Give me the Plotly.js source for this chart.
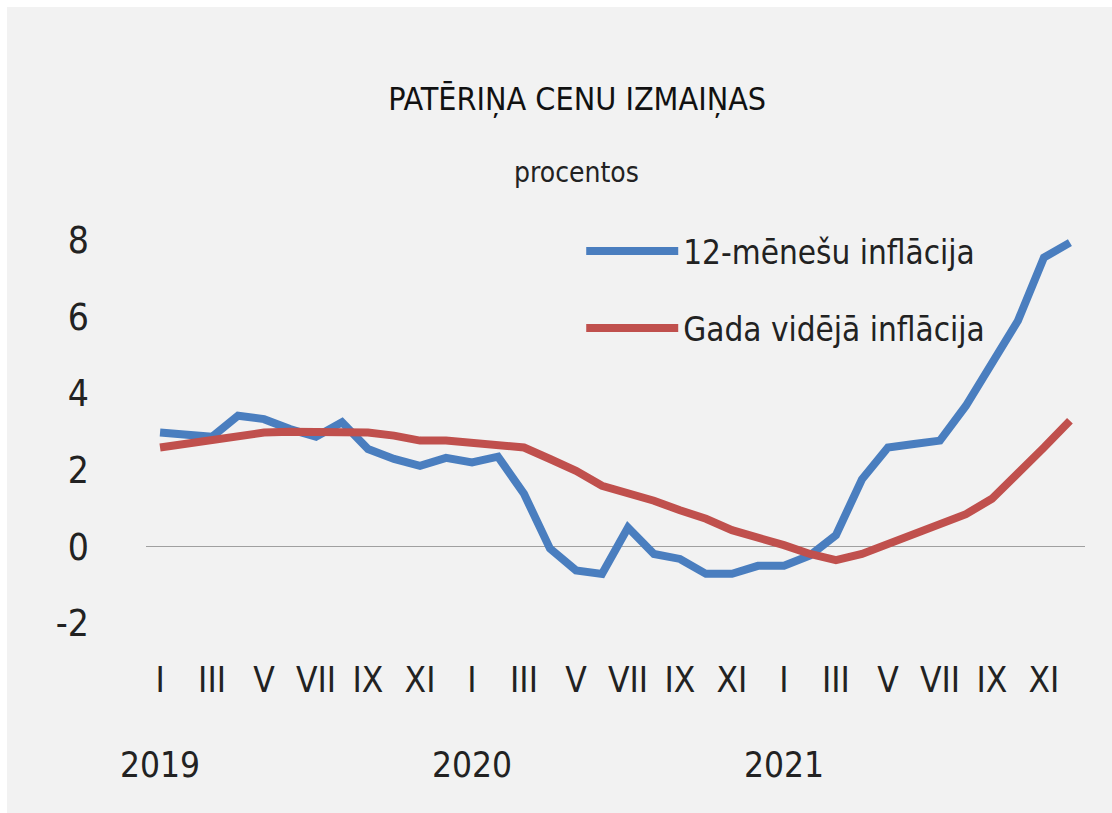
<!DOCTYPE html>
<html>
<head>
<meta charset="utf-8">
<script src="https://cdn.plot.ly/plotly-3.0.1.min.js"></script>
<style>
  html, body { margin: 0; padding: 0; background: #ffffff; }
  #chart { position: absolute; left: 7px; top: 7px; width: 1105px; height: 806px; }
</style>
</head>
<body>
<div id="chart"></div>
<script>
// Months Jan 2019 .. Dec 2021
const months = [
  '2019-01','2019-02','2019-03','2019-04','2019-05','2019-06','2019-07','2019-08','2019-09','2019-10','2019-11','2019-12',
  '2020-01','2020-02','2020-03','2020-04','2020-05','2020-06','2020-07','2020-08','2020-09','2020-10','2020-11','2020-12',
  '2021-01','2021-02','2021-03','2021-04','2021-05','2021-06','2021-07','2021-08','2021-09','2021-10','2021-11','2021-12'
];
// 12-mēnešu inflācija (%)
const inflation12m = [
  2.98, 2.92, 2.87, 3.42, 3.33, 3.07, 2.87, 3.25, 2.55, 2.29, 2.11, 2.32,
  2.20, 2.35, 1.38, -0.05, -0.62, -0.71, 0.50, -0.19, -0.32, -0.71, -0.71, -0.50,
  -0.50, -0.23, 0.30, 1.76, 2.59, 2.68, 2.77, 3.68, 4.77, 5.90, 7.55, 7.94
];
// Gada vidējā inflācija (%)
const inflationAvg = [
  2.59, 2.68, 2.77, 2.90, 2.98, 3.00, 3.00, 3.00, 2.98, 2.90, 2.77, 2.77,
  2.70, 2.68, 2.59, 2.29, 1.98, 1.59, 1.42, 1.20, 0.95, 0.73, 0.43, 0.26,
  0.04, -0.19, -0.35, -0.19, 0.07, 0.37, 0.59, 0.85, 1.25, 1.90, 2.59, 3.29
];
const tickMonths = ['2019-01','2019-03','2019-05','2019-07','2019-09','2019-11',
                    '2020-01','2020-03','2020-05','2020-07','2020-09','2020-11',
                    '2021-01','2021-03','2021-05','2021-07','2021-09','2021-11'];
const tickLabels = ['I','III','V','VII','IX','XI','I','III','V','VII','IX','XI','I','III','V','VII','IX','XI'];
const yearLabels = ['2019','2020','2021'];
const yearPositions = ['2019-01','2020-01','2021-01'];
const yTicks = [-2, 0, 2, 4, 6, 8];
const yTickLabels = ['-2', '0', '2', '4', '6', '8'];

const FONT = '"Liberation Sans Narrow", "DejaVu Sans Condensed", "Arial Narrow", sans-serif';

const traces = [
  {
    x: months, y: inflation12m, type: 'scatter', mode: 'lines',
    name: '12-mēnešu inflācija', legendgroup: 'a',
    line: { color: '#4a7ebf', width: 8 }
  },
  {
    x: months, y: inflationAvg, type: 'scatter', mode: 'lines',
    name: 'Gada vidējā inflācija', legendgroup: 'b',
    line: { color: '#c0504d', width: 8 }
  }
];

const annotations = yearLabels.map((t, i) => ({
  text: t, x: yearPositions[i], xref: 'x', y: -0.2516, yref: 'paper',
  xanchor: 'center', yanchor: 'middle', showarrow: false,
  font: { family: FONT, size: 35, color: '#222222' }
}));
annotations.push({
  text: 'procentos', x: 0.458, xref: 'paper', y: 1.066, yref: 'paper',
  xanchor: 'center', yanchor: 'middle', showarrow: false,
  font: { family: FONT, size: 28, color: '#222222' }
});

const layout = {
  width: 1105, height: 806,
  paper_bgcolor: '#f2f2f2', plot_bgcolor: '#f2f2f2',
  margin: { l: 139, r: 27, t: 195, b: 161, pad: 0 },
  font: { family: FONT, color: '#222222' },
  title: {
    text: 'PATĒRIŅA CENU IZMAIŅAS',
    font: { family: FONT, size: 32, color: '#111111' },
    x: 0.516, xref: 'container', xanchor: 'center',
    y: 0.886, yref: 'container', yanchor: 'middle'
  },
  xaxis: {
    type: 'category',
    range: [-0.54, 35.58],
    tickmode: 'array', tickvals: tickMonths, ticktext: tickLabels,
    showgrid: false, zeroline: false, showline: false, ticks: '',
    tickfont: { family: FONT, size: 35, color: '#222222' },
    ticklabelstandoff: 4,
    fixedrange: true
  },
  yaxis: {
    range: [-2.75, 9],
    tickmode: 'array', tickvals: yTicks, ticktext: yTickLabels,
    showgrid: false, zeroline: true, zerolinecolor: '#a0a0a0', zerolinewidth: 1.5,
    showline: false, ticks: '',
    tickfont: { family: FONT, size: 37, color: '#222222' },
    ticklabelstandoff: 56,
    fixedrange: true
  },
  showlegend: true,
  legend: {
    x: 0.4635, xanchor: 'left', y: 0.953, yanchor: 'top',
    bgcolor: 'rgba(0,0,0,0)', borderwidth: 0,
    font: { family: FONT, size: 33, color: '#222222' },
    itemwidth: 92, traceorder: 'grouped', tracegroupgap: 31
  },
  annotations: annotations
};

Plotly.newPlot('chart', traces, layout, { staticPlot: true, displayModeBar: false });
</script>
</body>
</html>
